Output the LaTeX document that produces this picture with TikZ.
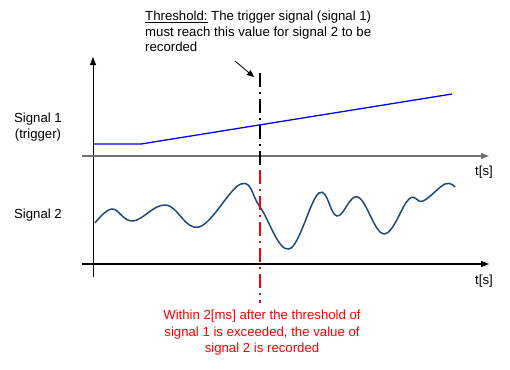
\documentclass[tikz,border=0pt]{standalone}
\usepackage{fontspec}
\setmainfont{Liberation Sans}
\usetikzlibrary{arrows.meta, calc}
\definecolor{wavecol}{HTML}{1F4A7A}
\definecolor{axisgray}{HTML}{707070}

\begin{document}
\begin{tikzpicture}[x=1pt, y=-1pt,
    font=\fontsize{13.2}{15.5}\selectfont,
    axis/.style={line width=1.2pt, -{Triangle[length=8pt,width=6pt]}},
    threshline/.style={line width=1.8pt, dash pattern=on 14pt off 5pt on 2pt off 5pt},
    txt/.style={inner sep=0pt}]

    % 1. Canvas with the margins of the reference
    \useasboundingbox (0,0) rectangle (510,369);

    % 2. Axes
    \coordinate (O1) at (82,156);
    \coordinate (E1) at (489,156);
    \coordinate (O2) at (82,264);
    \coordinate (E2) at (489,264);
    \coordinate (Vb) at (93,277);
    \coordinate (Vt) at (93,57);
    \draw[axis, line width=0.8pt] (Vb) -- (Vt);
    \draw[axis, axisgray] (O1) -- (E1);
    \draw[axis] (O2) -- (E2);
    \node[txt] (t1) at (484,172) {t[s]};
    \node[txt] (t2) at (484,281) {t[s]};

    % 3. Signal labels
    \node[txt, align=center] (lab1) at (38,127) {Signal 1\\(trigger)};
    \node[txt] (lab2) at (38,215) {Signal 2};

    % 4. Signal 1 (trigger ramp)
    \draw[blue, line width=1.3pt] (94,144) -- (141,144) -- (452,94);

    % 5. Signal 2 (measured wave)
    \draw[wavecol, line width=1.5pt] plot[smooth, tension=0.65] coordinates {
        (95,223) (112,209) (133,221) (166,205) (199,227) (241,184)
        (260,207) (289,249) (319,193) (337,216) (358,197) (384,234)
        (409,199) (423,201) (445,184) (455,187)};

    % 6. Threshold marker (black above, red below)
    \coordinate (Th) at (260,73);
    \coordinate (Tm) at (260,166);
    \coordinate (Tb) at (260,303);
    \draw[threshline] (Th) -- (Tm);
    \draw[threshline, red] ($(Tm)+(0,4)$) -- (Tb);

    % 7. Explanations
    \node[txt, anchor=north west, align=left] (thr) at (145,11)
        {\underline{Threshold:} The trigger signal (signal 1)\\must reach this value for signal 2 to be\\recorded};
    \coordinate (Aa) at (235,61);
    \coordinate (Ab) at (254,77);
    \draw[line width=0.8pt, -{Triangle[length=7pt,width=6pt]}] (Aa) -- (Ab);

    \node[txt, red, anchor=north, align=center, font=\fontsize{13.2}{16.5}\selectfont] (rec) at (262,310)
        {Within 2[ms] after the threshold of\\signal 1 is exceeded, the value of\\signal 2 is recorded};

\end{tikzpicture}
\end{document}
